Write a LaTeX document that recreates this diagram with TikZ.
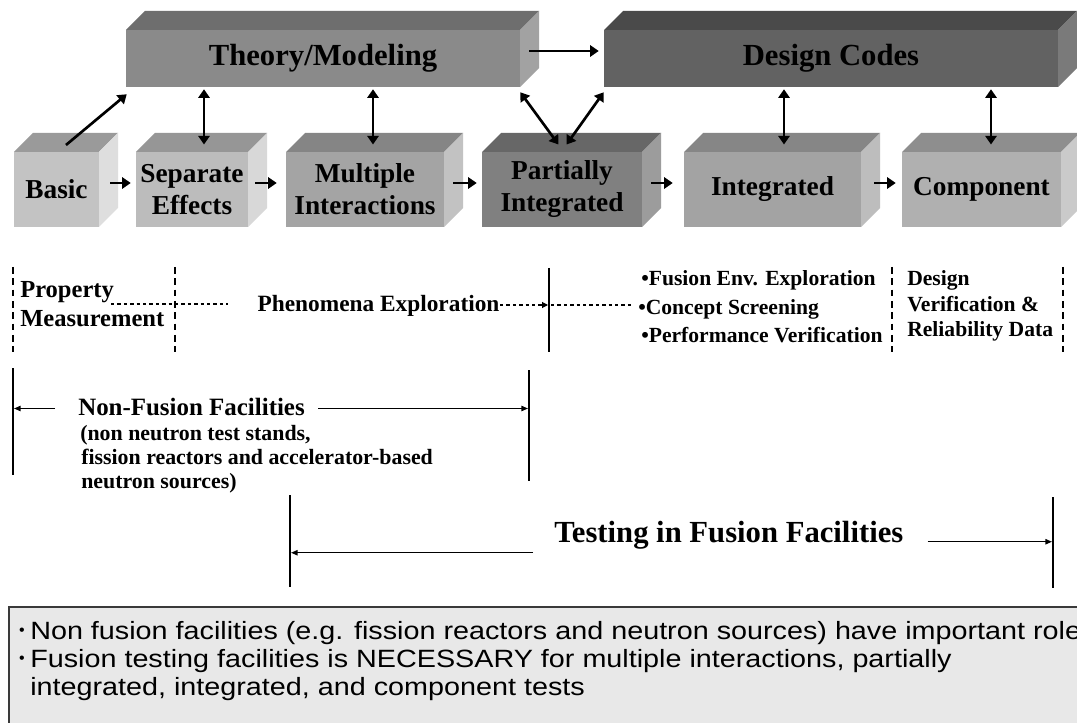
\documentclass[tikz,border=0pt]{standalone}
\usepackage{fontspec}
\setmainfont{Liberation Serif}
\newfontfamily\arialx[FakeStretch=1.15]{Liberation Sans}
\newfontfamily\arialn{Liberation Sans}
\usetikzlibrary{arrows.meta,calc}
\definecolor{thF}{HTML}{8A8A8A}\definecolor{thT}{HTML}{6E6E6E}\definecolor{thS}{HTML}{A2A2A2}
\definecolor{dcF}{HTML}{626262}\definecolor{dcT}{HTML}{4A4A4A}\definecolor{dcS}{HTML}{7A7A7A}
\definecolor{baF}{HTML}{C3C3C3}\definecolor{baT}{HTML}{9A9A9A}\definecolor{baS}{HTML}{DEDEDE}
\definecolor{seF}{HTML}{BCBCBC}\definecolor{seT}{HTML}{969696}\definecolor{seS}{HTML}{D8D8D8}
\definecolor{muF}{HTML}{A4A4A4}\definecolor{muT}{HTML}{858585}\definecolor{muS}{HTML}{C2C2C2}
\definecolor{paF}{HTML}{808080}\definecolor{paT}{HTML}{676767}\definecolor{paS}{HTML}{9C9C9C}
\definecolor{inF}{HTML}{A3A3A3}\definecolor{inT}{HTML}{868686}\definecolor{inS}{HTML}{BDBDBD}
\definecolor{coF}{HTML}{B0B0B0}\definecolor{coT}{HTML}{8E8E8E}\definecolor{coS}{HTML}{CACACA}
\definecolor{noteF}{HTML}{E8E8E8}\definecolor{noteD}{HTML}{3A3A3A}
\tikzset{
  face/.style={inner sep=0pt, align=center, text=black, font=\bfseries\fontsize{20.5}{24}\selectfont},
  bigarr/.style={line width=2pt, -{Triangle[length=6.5pt,width=8.5pt]}},
  bigdbl/.style={line width=2pt, {Triangle[length=6.5pt,width=8.5pt]}-{Triangle[length=6.5pt,width=8.5pt]}},
  thinarr/.style={line width=1.1pt, -{Triangle[length=5pt,width=4pt]}},
  dots/.style={line width=0.8pt, dash pattern=on 2.6pt off 2.2pt},
  sepdash/.style={line width=2.2pt, dash pattern=on 5pt off 3.5pt},
  sepline/.style={line width=1.6pt},
  lbl/.style={inner sep=0pt, text=black, font=\bfseries\fontsize{16.2}{19}\selectfont},
  notetxt/.style={inner sep=0pt, text=black, font=\arialx\fontsize{18.75}{22}\selectfont},
}
\newcommand\cubebox[9]{%
  \fill[#7] (#2,#3) -- (#2+19,#3-19) -- (#4+19,#3-19) -- (#4,#3) -- cycle;
  \fill[#8] (#4,#3) -- (#4+19,#3-19) -- (#4+19,#5-19) -- (#4,#5) -- cycle;
  \node[face, fill=#6, minimum width={(#4-#2)*0.75pt}, minimum height={(#5-#3)*0.75pt}] (#1) at ({(#2+#4)/2},{(#3+#5)/2}) {#9};
  \coordinate (#1-t) at ({(#2+#4)/2+9.5},{#3-9.5});
}
\begin{document}
\begin{tikzpicture}[x=0.75pt,y=-0.75pt]
\useasboundingbox (0,0) rectangle (1077,723);
\fill[white] (0,0) rectangle (1077,723);
% ---------- top boxes
\cubebox{th}{126}{30}{520}{87}{thF}{thT}{thS}{\fontsize{23}{27}\selectfont Theory/Modeling}
\cubebox{dc}{604}{30}{1058}{87}{dcF}{dcT}{dcS}{\fontsize{23}{27}\selectfont Design Codes}
% ---------- test boxes
\cubebox{basic}{14}{152}{99}{227}{baF}{baT}{baS}{Basic}
\cubebox{sep}{136}{152}{248}{227}{seF}{seT}{seS}{Separate\\Effects}
\cubebox{mult}{286}{152}{444}{227}{muF}{muT}{muS}{Multiple\\Interactions}
\cubebox{part}{482}{152}{642}{227}{paF}{paT}{paS}{Partially\\Integrated}
\cubebox{integ}{684}{152}{861}{227}{inF}{inT}{inS}{Integrated}
\cubebox{comp}{902}{152}{1061}{227}{coF}{coT}{coS}{Component}
% ---------- arrows between boxes
\draw[bigarr] ($(basic.east)+(11,-6.5)$) -- ($(sep.west)+(-5,-6.5)$);
\draw[bigarr] ($(sep.east)+(7,-6.5)$) -- ($(mult.west)+(-9,-6.5)$);
\draw[bigarr] ($(mult.east)+(9,-6.5)$) -- ($(part.west)+(-5,-6.5)$);
\draw[bigarr] ($(part.east)+(9,-6.5)$) -- ($(integ.west)+(-11,-6.5)$);
\draw[bigarr] ($(integ.east)+(13,-6.5)$) -- ($(comp.west)+(-6,-6.5)$);
\draw[bigarr] ($(basic-t)+(0,2.5)$) -- ($(th.south west)+(1,7)$);
\draw[bigarr] ($(th.east)+(9,-7.5)$) -- ($(dc.west)+(-5,-7.5)$);
\draw[bigdbl] ($(th.south -| sep-t)+(2.5,2)$) -- ($(sep-t)+(2.5,2)$);
\draw[bigdbl] ($(th.south -| mult-t)+(-1.5,2)$) -- ($(mult-t)+(-1.5,2)$);
\draw[bigdbl] ($(dc.south -| integ-t)+(2,2)$) -- ($(integ-t)+(2,2)$);
\draw[bigdbl] ($(dc.south -| comp-t)+(0,2)$) -- ($(comp-t)+(0,2)$);
\draw[bigdbl] ($(th.south east)+(0,5)$) -- ($(part-t)+(-13,2)$);
\draw[bigdbl] ($(dc.south west)+(0,5)$) -- ($(part-t)+(-5,2)$);
% ---------- middle row
\draw[sepdash] (13,267) -- (13,352);
\draw[sepdash] (175,267) -- (175,352);
\draw[sepdash] (892,267) -- (892,352);
\draw[sepdash] (1063,267) -- (1063,352);
\draw[line width=1.9pt] (549,268) -- (549,352);
\node[inner sep=0pt, anchor=base west, font=\bfseries\fontsize{18.4}{22}\selectfont] (pm1) at (20,298) {Property};
\node[inner sep=0pt, anchor=base west, font=\bfseries\fontsize{18.4}{22}\selectfont] (pm2) at (20,327) {Measurement};
\node[inner sep=0pt, anchor=base, font=\bfseries\fontsize{17.5}{21}\selectfont] (phen) at (378.5,312) {Phenomena Exploration};
\coordinate (d1a) at (111,304); \coordinate (d1b) at (228,304);
\coordinate (d2a) at (500,305); \coordinate (d2b) at (548,305);
\coordinate (d3a) at (551,305); \coordinate (d3b) at (632,305);
\draw[dots] (d1a) -- (d1b);
\draw[dots, -{Triangle[length=4.5pt,width=4.5pt]}] (d2a) -- (d2b);
\draw[dots] (d3a) -- (d3b);
\node[lbl, anchor=base west] (b1) at (641,286) {•Fusion Env. Exploration};
\node[lbl, anchor=base west] (b2) at (638,315) {•Concept Screening};
\node[lbl, anchor=base west] (b3) at (641,343) {•Performance Verification};
\node[lbl, anchor=base west] (dv1) at (907,286) {Design};
\node[lbl, anchor=base west] (dv2) at (907,312) {Verification \&};
\node[lbl, anchor=base west] (dv3) at (907,337) {Reliability Data};
% ---------- non-fusion facilities
\coordinate (nfL1) at (13,368); \coordinate (nfL2) at (13,475);
\coordinate (nfR1) at (529,370); \coordinate (nfR2) at (529,481);
\draw[sepline] (nfL1) -- (nfL2);
\draw[sepline] (nfR1) -- (nfR2);
\node[inner sep=0pt, anchor=base west, font=\bfseries\fontsize{18.7}{22}\selectfont] (nf) at (78,415) {Non-Fusion Facilities};
\draw[thinarr] ($(nf.west)+(-23,2)$) -- ($(nfL1)!(nf.west)!(nfL2)+(1,2)$);
\draw[thinarr] ($(nf.east)+(13,2)$) -- ($(nfR1)!(nf.east)!(nfR2)+(-1,2)$);
\node[inner sep=0pt, anchor=base west, font=\bfseries\fontsize{16.4}{19}\selectfont] (nfs1) at (80,440) {(non neutron test stands,};
\node[inner sep=0pt, anchor=base west, font=\bfseries\fontsize{16.4}{19}\selectfont] (nfs2) at (81,464) {fission reactors and accelerator-based};
\node[inner sep=0pt, anchor=base west, font=\bfseries\fontsize{16.4}{19}\selectfont] (nfs3) at (81,488) {neutron sources)};
% ---------- fusion facilities
\coordinate (ffL1) at (290,495); \coordinate (ffL2) at (290,587);
\coordinate (ffR1) at (1053,497); \coordinate (ffR2) at (1053,588);
\draw[sepline] (ffL1) -- (ffL2);
\draw[sepline] (ffR1) -- (ffR2);
\node[inner sep=0pt, anchor=base west, font=\bfseries\fontsize{23}{27}\selectfont] (ff) at (554,542) {Testing in Fusion Facilities};
\draw[thinarr] ($(ff.west)+(-21,18)$) -- ($(ffL1)!(ff.west)!(ffL2)+(1,18)$);
\draw[thinarr] ($(ff.east)+(24,7)$) -- ($(ffR1)!(ff.east)!(ffR2)+(-1,7)$);
% ---------- note box
\draw[fill=noteF, draw=noteD, line width=1.1pt] (9,607) rectangle (1110,740);
\node[inner sep=0pt, font=\arialn\fontsize{12}{12}\selectfont] (nb1) at (22,632) {•};
\node[inner sep=0pt, font=\arialn\fontsize{12}{12}\selectfont] (nb2) at (22,660) {•};
\node[notetxt, anchor=base west] (n1) at (30,639) {Non fusion facilities (e.g. fission reactors and neutron sources) have important roles};
\node[notetxt, anchor=base west] (n2) at (30,667) {Fusion testing facilities is NECESSARY for multiple interactions, partially};
\node[notetxt, anchor=base west] (n3) at (30,695) {integrated, integrated, and component tests};
\end{tikzpicture}
\end{document}
